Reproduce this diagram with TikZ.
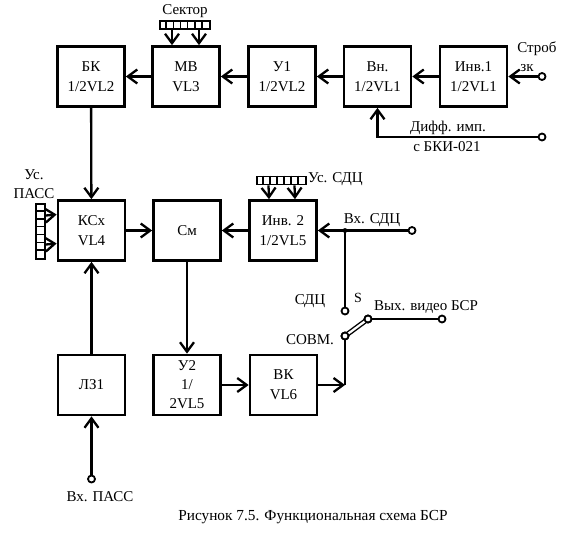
\documentclass[tikz,border=0pt]{standalone}
\usepackage{fontspec}
\setmainfont{Liberation Serif}
\usetikzlibrary{arrows.meta}
\begin{document}
\begin{tikzpicture}[x=1pt,y=-1pt,
  blk/.style={draw,line width=2.7pt,minimum width=67pt,minimum height=60pt,inner sep=0pt,align=center,font=\fontsize{15}{20}\selectfont},
  ln/.style={line width=2.3pt},
  arr/.style={line width=2.3pt,-{Straight Barb[length=9.5pt,width=14pt,line width=2.3pt]}},
  term/.style={circle,draw,fill=white,line width=1.8pt,inner sep=0pt,minimum size=7pt},
  lbl/.style={inner sep=0pt,font=\fontsize{15}{18}\selectfont},
  bus/.style={draw,line width=1.8pt,inner sep=0pt}
]
\useasboundingbox (0,0) rectangle (563,535);
% boxes
\node[blk] (bk)   at (91,76.5)  {БК\\1/2VL2};
\node[blk] (mv)   at (186,76.5) {МВ\\VL3};
\node[blk] (u1)   at (282,76.5) {У1\\1/2VL2};
\node[blk] (vn)   at (377.5,76.5) {Вн.\\1/2VL1};
\node[blk] (inv1) at (473.5,76.5) {Инв.1\\1/2VL1};
\node[blk] (ksx)  at (91.5,230.5) {КСх\\VL4};
\node[blk] (sm)   at (187,230.5) {См};
\node[blk] (inv2) at (283,230.5) {Инв. 2\\1/2VL5};
\node[blk] (lz)   at (91.5,385) {ЛЗ1};
\node[blk,font=\fontsize{15}{19}\selectfont] (u2) at (187,385) {У2\\1/\\2VL5};
\node[blk] (vk)   at (283.5,385) {ВК\\VL6};
% terminals
\node[term] (tstrob) at (542,76.5) {};
\node[term] (tdif)   at (542,137) {};
\node[term] (tvxs)   at (412,230.5) {};
\node[term] (tsdc)   at (345,311) {};
\node[term] (tsovm)  at (345,336) {};
\node[term] (tblade) at (368,319) {};
\node[term] (tout)   at (442,319) {};
\node[term] (tpass)  at (91.5,479) {};
% buses
\node[bus,minimum width=50pt,minimum height=8pt] (sek) at (185,25) {};
\foreach \i in {1,...,6} \draw[line width=1.5pt] ([xshift=\i*50/7 pt]sek.north west) -- ([xshift=\i*50/7 pt]sek.south west);
\node[bus,minimum width=49pt,minimum height=8pt] (usdc) at (281.5,180.5) {};
\foreach \i in {1,...,6} \draw[line width=1.5pt] ([xshift=\i*49/7 pt]usdc.north west) -- ([xshift=\i*49/7 pt]usdc.south west);
\node[bus,minimum width=9pt,minimum height=55pt] (upass) at (40.5,231.5) {};
\foreach \i in {1,...,6} \draw[line width=1.5pt] ([yshift=-\i*55/7 pt]upass.north west) -- ([yshift=-\i*55/7 pt]upass.north east);
% connectors top row
\draw[arr] (tstrob) -- (inv1.east |- tstrob);
\draw[arr] (inv1) -- (vn);
\draw[arr] (vn) -- (u1);
\draw[arr] (u1) -- (mv);
\draw[arr] (mv) -- (bk);
\draw[arr] (tdif) -- (vn.south |- tdif) -- (vn.south);
\draw[arr] ([xshift=-13pt]sek.south) -- ([xshift=-14pt]mv.north);
\draw[arr] ([xshift=14pt]sek.south) -- ([xshift=13pt]mv.north);
\draw[arr] (bk) -- (ksx);
% middle row
\draw[arr] ([yshift=-13pt]upass.east) -- ([yshift=-13pt]ksx.west);
\draw[arr] ([yshift=16pt]upass.east) -- ([yshift=16pt]ksx.west);
\draw[arr] (ksx) -- (sm);
\draw[arr] (inv2) -- (sm);
\draw[arr] (tvxs) -- (inv2.east |- tvxs);
\draw[arr] ([xshift=-13pt]usdc.south) -- ([xshift=-14pt]inv2.north);
\draw[arr] ([xshift=13pt]usdc.south) -- ([xshift=12pt]inv2.north);
\coordinate (jn) at (345,230.5);
\fill (jn) circle (2.4pt);
\draw[ln] (jn) -- (tsdc);
% bottom
\draw[arr] (sm) -- (u2);
\draw[arr] (lz) -- (ksx);
\draw[arr] (tpass) -- (lz);
\draw[arr] (u2) -- (vk);
\coordinate (vkout) at (345,385);
\draw[arr] (vk.east) -- (vkout);
\draw[ln] (vkout) -- (tsovm);
\draw[line width=1.4pt,double,double distance=2.2pt] (tsovm.center) -- (tblade.center);
\node[term] at (tsovm) {};
\node[term] at (tblade) {};
\draw[ln] (tblade) -- (tout);
% labels
\node[lbl] (l1) at (185,11) {Сектор};
\node[lbl] (l2) at (537,49) {Строб};
\node[lbl] (l3) at (527,68) {зк};
\node[lbl] (l4) at (448,128) {Дифф. имп.};
\node[lbl] (l5) at (447,147) {с БКИ-021};
\node[lbl] (l6) at (34,175) {Ус.};
\node[lbl] (l7) at (34,194) {ПАСС};
\node[lbl,anchor=west] (l8) at (308,179) {Ус. СДЦ};
\node[lbl] (l9) at (372,220) {Вх. СДЦ};
\node[lbl] (l10) at (310,301) {СДЦ};
\node[lbl,font=\fontsize{14}{16}\selectfont] (l11) at (358,298) {S};
\node[lbl] (l12) at (426,307) {Вых. видео БСР};
\node[lbl] (l13) at (310,340) {СОВМ.};
\node[lbl] (l14) at (100,497) {Вх. ПАСС};
\node[lbl,font=\fontsize{15.3}{17}\selectfont] (cap) at (313,517) {Рисунок 7.5. Функциональная схема БСР};
\end{tikzpicture}
\end{document}
